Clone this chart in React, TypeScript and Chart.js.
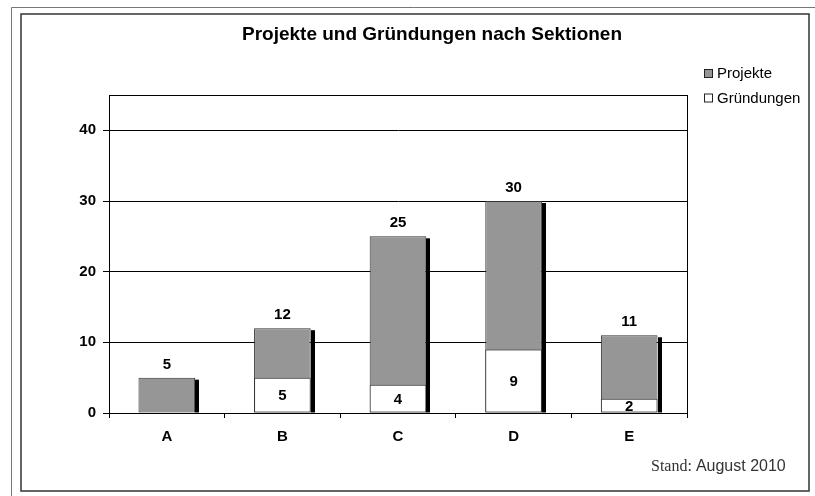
import { useEffect, useRef } from "react";
import { Chart, registerables } from "chart.js";

Chart.register(...registerables);

const categories = ["A", "B", "C", "D", "E"];
const projekte = [5, 12, 25, 30, 11];
const gruendungen = [0, 5, 4, 9, 2];
const yMax = 45;
const yStep = 10;
const titleText = "Projekte und Gründungen nach Sektionen";
const standLabel = "Stand:";
const standDate = "August 2010";

const SANS = "'Liberation Sans', Arial, sans-serif";
const SERIF = "'Liberation Serif', 'Times New Roman', serif";

const W = 815;
const H = 496;

export default function App() {
  const ref = useRef<HTMLCanvasElement | null>(null);

  useEffect(() => {
    document.body.style.margin = "0";
    const canvas = ref.current;
    if (!canvas) return;

    const decorPlugin = {
      id: "decor",
      beforeDraw(chart: any) {
        const ctx = chart.ctx;
        ctx.save();
        ctx.fillStyle = "#ffffff";
        ctx.fillRect(0, 0, W, H);
        ctx.strokeStyle = "#777777";
        ctx.lineWidth = 1;
        ctx.beginPath();
        ctx.moveTo(11.5, H);
        ctx.lineTo(11.5, 7.5);
        ctx.lineTo(W, 7.5);
        ctx.stroke();
        ctx.strokeStyle = "#333333";
        ctx.lineWidth = 1.5;
        ctx.strokeRect(21, 14, 788, 477);
        ctx.restore();
      },
      afterDatasetsDraw(chart: any) {
        const ctx = chart.ctx;
        const metaP = chart.getDatasetMeta(0);
        const metaG = chart.getDatasetMeta(1);
        ctx.save();
        ctx.fillStyle = "#000000";
        metaP.data.forEach((el: any) => {
          const p = el.getProps(["x", "y", "base", "width"], true);
          const right = Math.round(p.x + p.width / 2);
          ctx.fillRect(right, p.y + 2, 4, p.base - p.y - 2);
        });
        ctx.fillStyle = "#000000";
        ctx.font = `bold 15px ${SANS}`;
        ctx.textAlign = "center";
        ctx.textBaseline = "middle";
        metaP.data.forEach((el: any, i: number) => {
          const p = el.getProps(["x", "y"], true);
          ctx.fillText(String(projekte[i]), p.x, p.y - 13);
        });
        metaG.data.forEach((el: any, i: number) => {
          if (!gruendungen[i]) return;
          const p = el.getProps(["x", "y", "base"], true);
          ctx.fillText(String(gruendungen[i]), p.x, (p.y + p.base) / 2 + 1);
        });
        ctx.restore();
      },
      afterDraw(chart: any) {
        const ctx = chart.ctx;
        const a = chart.chartArea;
        ctx.save();
        ctx.strokeStyle = "#000000";
        ctx.lineWidth = 1;
        ctx.strokeRect(a.left + 0.5, a.top + 0.5, a.right - a.left, a.bottom - a.top);
        ctx.fillStyle = "#000000";
        ctx.font = `bold 19px ${SANS}`;
        ctx.textAlign = "center";
        ctx.textBaseline = "middle";
        ctx.fillText(titleText, 432, 35);
        const ds = chart.data.datasets;
        ctx.font = `15px ${SANS}`;
        ctx.textAlign = "left";
        ds.forEach((d: any, i: number) => {
          const cy = 74 + i * 24.5;
          ctx.fillStyle = d.backgroundColor;
          ctx.fillRect(704.5, cy - 4.5, 8, 8);
          ctx.strokeStyle = "#222222";
          ctx.lineWidth = 1;
          ctx.strokeRect(704.5, cy - 4.5, 8, 8);
          ctx.fillStyle = "#000000";
          ctx.fillText(d.label, 717, cy);
        });
        ctx.fillStyle = "#333333";
        ctx.textBaseline = "alphabetic";
        ctx.font = `16px ${SERIF}`;
        const sw = ctx.measureText(standLabel + " ").width;
        ctx.fillText(standLabel + " ", 651, 471);
        ctx.font = `16px ${SANS}`;
        ctx.fillText(standDate, 651 + sw, 471);
        ctx.restore();
      },
    };

    const chart = new Chart(canvas, {
      type: "bar",
      data: {
        labels: categories,
        datasets: [
          {
            label: "Projekte",
            data: projekte,
            backgroundColor: "#969696",
            borderColor: "#333333",
            borderWidth: 1,
            borderSkipped: false,
            order: 2,
          },
          {
            label: "Gründungen",
            data: gruendungen,
            backgroundColor: "#ffffff",
            borderColor: "#333333",
            borderWidth: 1,
            borderSkipped: false,
            order: 1,
          },
        ],
      },
      options: {
        responsive: false,
        animation: false,
        devicePixelRatio: 1,
        events: [],
        layout: { padding: { top: 95, right: 128, left: 0, bottom: 0 } },
        datasets: {
          bar: {
            grouped: false,
            barPercentage: 0.49,
            categoryPercentage: 1,
          },
        },
        plugins: {
          legend: { display: false },
          title: { display: false },
          tooltip: { enabled: false },
        },
        scales: {
          x: {
            offset: true,
            grid: {
              offset: true,
              drawOnChartArea: false,
              drawTicks: true,
              tickLength: 5,
              color: "#000000",
            },
            border: { display: true, color: "#000000" },
            ticks: {
              color: "#000000",
              font: { family: SANS, size: 15, weight: "bold" },
              padding: 10,
            },
            afterFit(scale: any) {
              scale.height = 83;
            },
          },
          y: {
            min: 0,
            max: yMax,
            grid: {
              color: "#000000",
              tickLength: 6,
              drawTicks: true,
            },
            border: { display: true, color: "#000000" },
            ticks: {
              stepSize: yStep,
              includeBounds: false,
              color: "#000000",
              font: { family: SANS, size: 15, weight: "bold" },
              padding: 7,
            },
            afterFit(scale: any) {
              scale.width = 109;
            },
          },
        },
      },
      plugins: [decorPlugin],
    });

    return () => chart.destroy();
  }, []);

  return <canvas ref={ref} width={W} height={H} style={{ display: "block", width: W, height: H }} />;
}
